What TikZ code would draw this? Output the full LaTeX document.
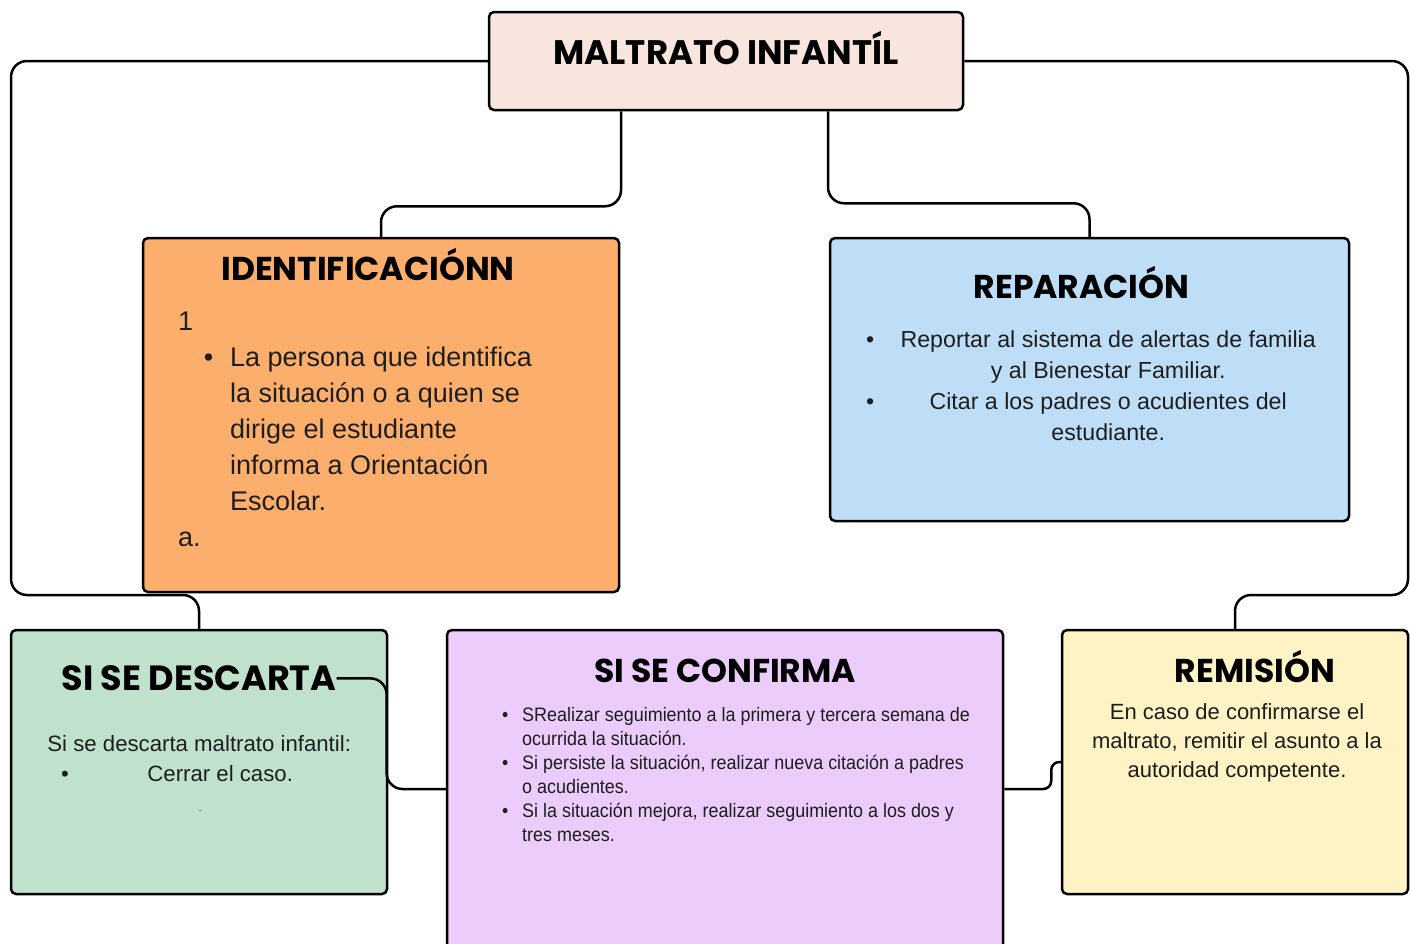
\documentclass[tikz,border=0pt]{standalone}
\usepackage{fontspec}
\setmainfont{Liberation Sans}
\newfontfamily\headfont{Poppins}
\newfontfamily\narrowfont{Liberation Sans}[FakeStretch=0.92]
\usetikzlibrary{positioning}

\definecolor{titlefill}{HTML}{F8E5DD}
\definecolor{identfill}{HTML}{FCAE6C}
\definecolor{reparfill}{HTML}{BEDDF7}
\definecolor{descfill}{HTML}{C0E1CC}
\definecolor{conffill}{HTML}{EBCCFA}
\definecolor{remisfill}{HTML}{FDF3C4}
\definecolor{ink}{HTML}{1E1E1E}

\tikzset{
  box/.style={draw=black, line width=2.5pt, rounded corners=5pt, inner sep=0pt},
  ttl/.style={font=\headfont\bfseries\fontsize{33}{36}\selectfont, inner sep=0pt, text=black},
  body/.style={inner sep=0pt, align=left, text=ink},
  link/.style={line width=2.5pt, rounded corners=16pt},
}

\begin{document}
\begin{tikzpicture}[x=1pt, y=-1pt]
\useasboundingbox (0,0) rectangle (1410,943);
\clip (0,0) rectangle (1410,943);

% boxes
\node [box, fill=titlefill, minimum width=474pt, minimum height=98pt] (title) at (726,61) {};
\node [box, fill=identfill, minimum width=476pt, minimum height=354pt] (ident) at (381,415) {};
\node [box, fill=reparfill, minimum width=519pt, minimum height=283pt] (repar) at (1089.5,379.5) {};
\node [box, fill=descfill, minimum width=376pt, minimum height=264pt] (desc) at (199,762) {};
\node [box, fill=conffill, minimum width=556pt, minimum height=330pt] (conf) at (725,795) {};
\node [box, fill=remisfill, minimum width=346pt, minimum height=264pt] (remis) at (1235,762) {};

% titles
\node [ttl, font=\headfont\bfseries\fontsize{34}{36}\selectfont, below=54pt of title.north, anchor=base] (titleT) {MALTRATO INFANTÍL};
\node [ttl, below=44pt of ident.north, anchor=base, xshift=-13pt] (identT) {IDENTIFICACIÓNN};
\node [ttl, below=62pt of repar.north, anchor=base, xshift=-8pt] (reparT) {REPARACIÓN};
\node [ttl, font=\headfont\bfseries\fontsize{35}{36}\selectfont, below=62pt of desc.north, anchor=base] (descT) {SI SE DESCARTA};
\node [ttl, below=54pt of conf.north, anchor=base] (confT) {SI SE CONFIRMA};
\node [ttl, below=54pt of remis.north, anchor=base, xshift=20pt] (remisT) {REMISIÓN};

% texts
\node [body, font=\fontsize{27}{36}\selectfont, below=68.8pt of ident.north, anchor=north west, xshift=-203pt] (identB) {\strut 1\\
\hspace*{52pt}\llap{\textbullet\hspace{17pt}}La persona que identifica\\
\hspace*{52pt}la situación o a quien se\\
\hspace*{52pt}dirige el estudiante\\
\hspace*{52pt}informa a Orientación\\
\hspace*{52pt}Escolar.\\
a.};
\node [body, font=\fontsize{23.2}{31}\selectfont, below=89.3pt of repar.north, anchor=north west, xshift=-223.5pt] (reparB) {\strut\makebox[0pt][l]{\textbullet}\makebox[484pt][c]{Reportar al sistema de alertas de familia}\\
\makebox[484pt][c]{y al Bienestar Familiar.}\\
\makebox[0pt][l]{\textbullet}\makebox[484pt][c]{Citar a los padres o acudientes del}\\
\makebox[484pt][c]{estudiante.}};
\node [body, font=\fontsize{22.2}{30}\selectfont, below=102pt of desc.north, anchor=north west, xshift=-138pt] (descB) {\strut\makebox[276pt][c]{Si se descarta maltrato infantil:}\\
\makebox[0pt][l]{\textbullet}\makebox[318pt][c]{Cerrar el caso.}\\
\makebox[278pt][c]{\fontsize{10}{10}\selectfont .}};
\node [body, font=\narrowfont\fontsize{19.5}{24}\selectfont, below=76.2pt of conf.north, anchor=north west, xshift=-223pt] (confB) {\strut\makebox[20pt][l]{\textbullet}SRealizar seguimiento a la primera y tercera semana de\\
\hspace*{20pt}ocurrida la situación.\\
\makebox[20pt][l]{\textbullet}Si persiste la situación, realizar nueva citación a padres\\
\hspace*{20pt}o acudientes.\\
\makebox[20pt][l]{\textbullet}Si la situación mejora, realizar seguimiento a los dos y\\
\hspace*{20pt}tres meses.};
\node [body, align=center, font=\fontsize{22}{29}\selectfont, below=70.7pt of remis.north, anchor=north, xshift=2pt] (remisB) {\strut En caso de confirmarse el\\
maltrato, remitir el asunto a la\\
autoridad competente.};

% links
\draw [link] (title.west) -| (11,595) -| (desc.north);
\draw [link] ([xshift=-105pt]title.south) -- ++(0,95) -| (ident.north);
\draw [link] ([xshift=102pt]title.south) -- ++(0,92) -| (repar.north);
\draw [link] (title.east) -| (1408,595) -| (remis.north);
\draw [link] (descT.east) -- ++(50,0) |- ([yshift=6pt]conf.west);
\draw [link, rounded corners=8pt] ([yshift=6pt]conf.east) -- ++(47,0) |- (remis.west);
\end{tikzpicture}
\end{document}
